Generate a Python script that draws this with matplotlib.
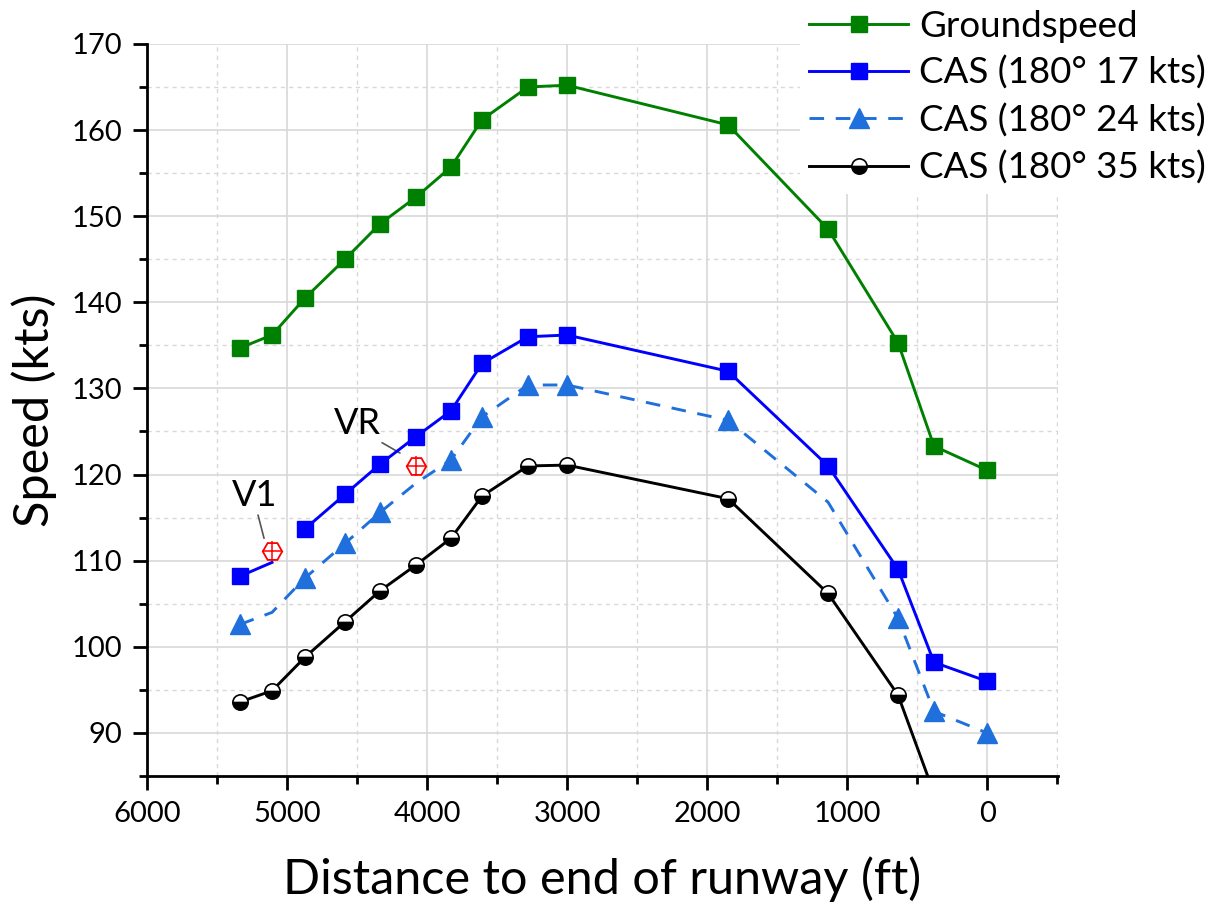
import numpy as np
import matplotlib
matplotlib.use("Agg")
from matplotlib import pyplot as plt
from matplotlib.ticker import MultipleLocator

plt.rcParams['font.family'] = ['Lato', 'DejaVu Sans']

# distance to end of runway (ft)
dist = [5336, 5107, 4871, 4586, 4336, 4079, 3829, 3607, 3279, 3000, 1850, 1136, 636, 379, 0]

groundspeed = [134.7, 136.2, 140.5, 145.0, 149.1, 152.2, 155.7, 161.2, 165.0, 165.2, 160.6, 148.5, 135.3, 123.3, 120.5]
cas17 = [108.2, 109.8, 113.7, 117.7, 121.2, 124.4, 127.4, 132.9, 136.0, 136.2, 132.0, 121.0, 109.0, 98.2, 96.0]
cas24 = [102.6, 104.0, 108.0, 112.0, 115.6, 119.0, 121.7, 126.7, 130.4, 130.4, 126.3, 116.8, 103.3, 92.5, 90.0]
cas35 = [93.6, 94.9, 98.8, 102.9, 106.5, 109.5, 112.6, 117.5, 121.0, 121.1, 117.2, 106.2, 94.4, 83.0, 79.0]

# V-speeds
v_labels = ["V1", "VR"]
v_dist = [5107, 4079]
v_speed = [111.1, 121.0]
v_text = [(5229, 117.6), (4500, 125.9)]
v_lead = [((5207, 115.3), (5164, 112.6)), ((4321, 123.7), (4193, 122.5))]

fig = plt.figure(figsize=(12.3, 9.05), dpi=100)
ax = fig.add_axes([0.1195, 0.1425, 0.7405, 0.809])

ms = 12
lw = 2.1

# 24 kts: dashed, markers hidden at V-speed / hidden points
mk24 = [0, 2, 3, 4, 6, 7, 8, 9, 10, 12, 13, 14]
ax.plot(dist, cas24, '--', color='#1f6fdc', lw=lw, dashes=(5, 4),
        marker='^', ms=ms + 2, markevery=mk24, label='CAS (180° 24 kts)', zorder=3)

# 35 kts: half filled circles
ax.plot(dist, cas35, '-', color='black', lw=lw, marker='o', ms=11,
        fillstyle='bottom', markerfacecolor='black', markerfacecoloralt='white',
        markeredgecolor='black', markeredgewidth=1.2, label='CAS (180° 35 kts)', zorder=3)

# 17 kts: line broken after V1
d17 = np.array(dist, dtype=float)
c17 = np.array(cas17, dtype=float)
ax.plot(d17[:2], c17[:2], '-', color='blue', lw=lw, marker='s', ms=ms, markevery=[0], zorder=4)
ax.plot(d17[2:], c17[2:], '-', color='blue', lw=lw, marker='s', ms=ms,
        label='CAS (180° 17 kts)', zorder=4)

ax.plot(dist, groundspeed, '-', color='green', lw=lw, marker='s', ms=ms,
        label='Groundspeed', zorder=4)

# V1 / VR markers
ax.plot(v_dist, v_speed, linestyle='none', marker='H', ms=14, mfc='none', mec='red', mew=1.3, zorder=5)
ax.plot(v_dist, v_speed, linestyle='none', marker='+', ms=14, mec='red', mew=1.1, zorder=5)
for lab, (tx, ty), (p0, p1) in zip(v_labels, v_text, v_lead):
    ax.text(tx, ty, lab, fontsize=26, ha='center', va='center')
    ax.annotate("", xy=p1, xytext=p0,
                arrowprops=dict(arrowstyle='-', color='#555555', lw=1.2, shrinkA=0, shrinkB=0))

ax.set_xlim(6000, -505)
ax.set_ylim(85, 170)
ax.xaxis.set_major_locator(MultipleLocator(1000))
ax.xaxis.set_minor_locator(MultipleLocator(500))
ax.yaxis.set_minor_locator(MultipleLocator(5))
ax.set_yticks(np.arange(90, 171, 10))

ax.grid(which='major', color='#d8d8d8', lw=1.2, ls='-')
ax.grid(which='minor', color='#d8d8d8', lw=1.0, ls=(0, (3, 3)))
ax.set_axisbelow(True)

for s in ['top', 'right']:
    ax.spines[s].set_visible(False)
for s in ['left', 'bottom']:
    ax.spines[s].set_linewidth(2)
ax.tick_params(which='major', direction='out', length=10, width=2, labelsize=21, pad=8)
ax.tick_params(which='minor', direction='out', length=6, width=2)

ax.set_xlabel("Distance to end of runway (ft)", fontsize=35, labelpad=21)
ax.set_ylabel("Speed (kts)", fontsize=35, labelpad=10)

h, l = ax.get_legend_handles_labels()
order = [l.index('Groundspeed'), l.index('CAS (180° 17 kts)'),
         l.index('CAS (180° 24 kts)'), l.index('CAS (180° 35 kts)')]
leg = fig.legend([h[i] for i in order], [l[i] for i in order], loc='upper right',
                 bbox_to_anchor=(1.003, 1.02), fontsize=26.5, handlelength=2.7,
                 labelspacing=0.36, handletextpad=0.3, frameon=True, borderpad=0.25)
leg.get_frame().set_edgecolor('none')
leg.get_frame().set_facecolor('white')
leg.get_frame().set_alpha(1)

fig.savefig("out.png", dpi=100)
